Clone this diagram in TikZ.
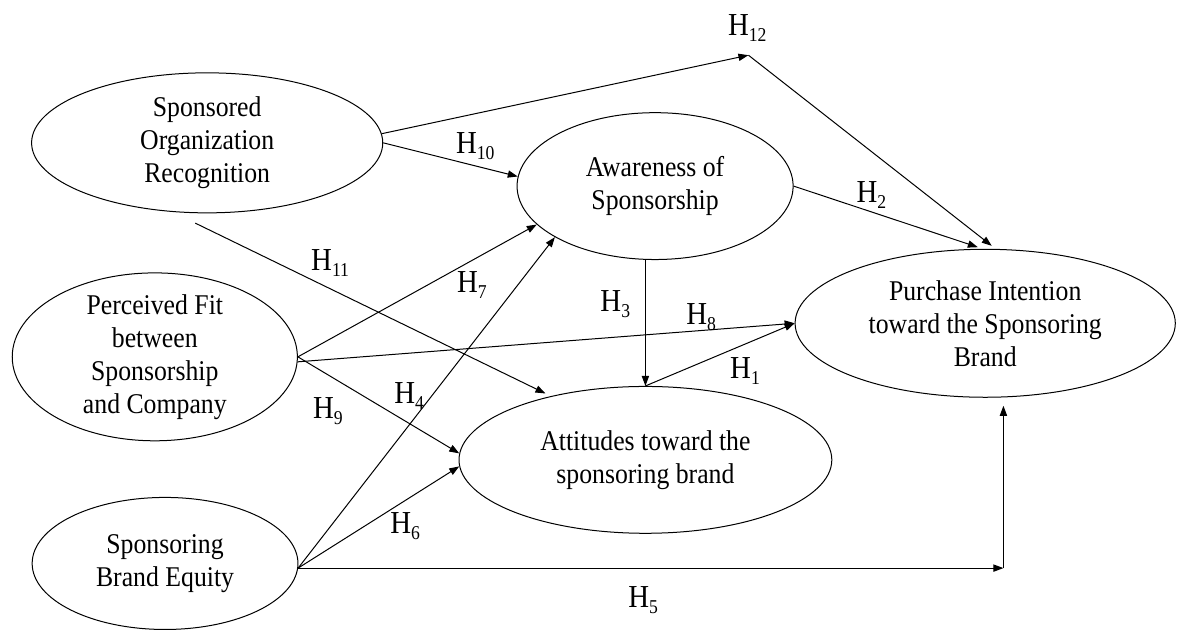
\documentclass[tikz,border=0pt]{standalone}
\usepackage{fontspec}
\setmainfont{Liberation Serif}[FakeStretch=0.9]
\usetikzlibrary{arrows.meta,shapes.geometric}
\newcommand{\hyp}[1]{H\raisebox{-3pt}{\fontsize{9.8}{10}\selectfont #1}}

\begin{document}
\begin{tikzpicture}[
  >={Triangle[length=5pt,width=3.6pt]},
  construct/.style={draw, ellipse, line width=0.5pt, align=center, inner xsep=0pt, inner ysep=-4pt, font=\fontsize{14.3}{16.5}\selectfont},
  hyp/.style={inner sep=0pt, font=\fontsize{16}{18}\selectfont},
  link/.style={->, line width=0.5pt}
]
\useasboundingbox (0,0) rectangle (20.68,11.09);

% constructs
\node[construct, minimum width=6.17cm, minimum height=2.46cm] (sor) at (3.64,8.58) {Sponsored\\Organization\\Recognition};
\node[construct, minimum width=5.01cm, minimum height=2.95cm] (pf) at (2.72,4.82) {Perceived Fit\\between\\Sponsorship\\and Company};
\node[construct, minimum width=4.67cm, minimum height=2.32cm] (sbe) at (2.90,1.19) {Sponsoring\\Brand Equity};
\node[construct, minimum width=4.85cm, minimum height=2.58cm] (aware) at (11.51,7.82) {Awareness of\\Sponsorship};
\node[construct, minimum width=6.55cm, minimum height=2.58cm] (att) at (11.34,3.01) {Attitudes toward the\\sponsoring brand};
\node[construct, minimum width=6.68cm, minimum height=2.60cm] (pi) at (17.31,5.41) {Purchase Intention\\toward the Sponsoring\\Brand};

\coordinate (h12tip) at (13.15,10.12);
\coordinate (h11start) at (3.43,7.17);
\coordinate (h5bend) at (17.63,1.09);

% hypotheses
\draw[link] (sor.3) -- (h12tip);
\draw[link, shorten >=2.5pt] (h12tip) -- (pi.82);
\draw[link] (sor.east) -- (aware.176);
\draw[link, shorten >=2.5pt] (aware.east) -- (pi.92);
\draw[link] (att.north |- aware.south) -- (att.north);
\draw[link] (att.north) -- (pi.west);
\draw[link, shorten >=3pt] (h11start) -- (att.146);
\draw[link] (pf.east) -- (aware.198);
\draw[link] (pf.-2) -- (pi.west);
\draw[link] (pf.east) -- (att.178);
\draw[link] (sbe.-2) -- (aware.207);
\draw[link] (sbe.-2) -- (att.182);
\draw[link] (sbe.-2) -- (h5bend |- sbe.-2);
\draw[link, shorten >=4pt] (h5bend |- sbe.-2) -- (h5bend |- pi.south);

% labels
\node[hyp] (l12) at (13.13,10.60) {\hyp{12}};
\node[hyp] (l10) at (8.35,8.52) {\hyp{10}};
\node[hyp] (l2) at (15.31,7.66) {\hyp{2}};
\node[hyp] (l11) at (5.80,6.47) {\hyp{11}};
\node[hyp] (l7) at (8.29,6.08) {\hyp{7}};
\node[hyp] (l3) at (10.81,5.75) {\hyp{3}};
\node[hyp] (l8) at (12.32,5.52) {\hyp{8}};
\node[hyp] (l1) at (13.09,4.57) {\hyp{1}};
\node[hyp] (l9) at (5.76,3.87) {\hyp{9}};
\node[hyp] (l4) at (7.19,4.13) {\hyp{4}};
\node[hyp] (l6) at (7.12,1.85) {\hyp{6}};
\node[hyp] (l5) at (11.30,0.55) {\hyp{5}};
\end{tikzpicture}
\end{document}
